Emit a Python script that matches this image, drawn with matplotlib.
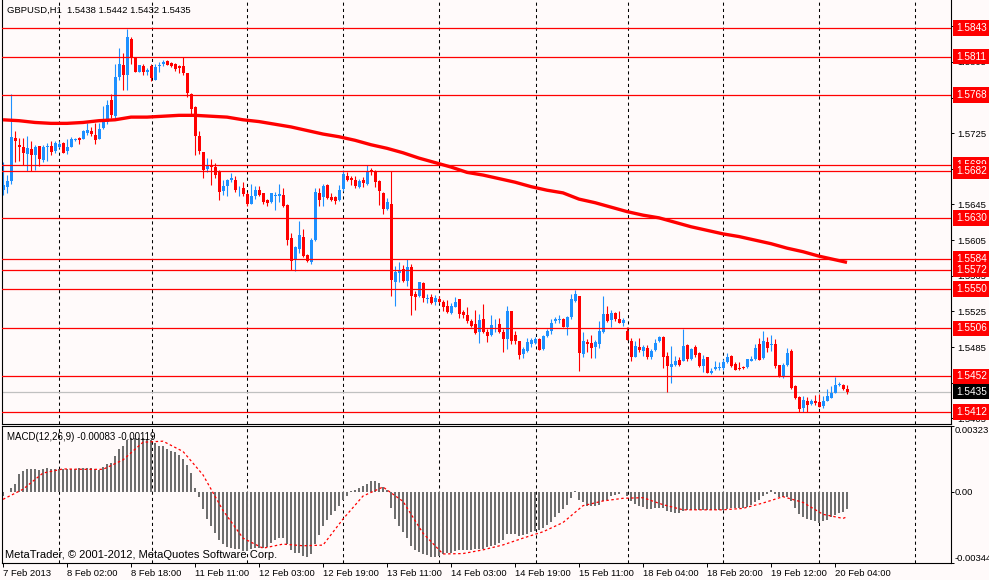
import numpy as np
import matplotlib
matplotlib.use('Agg')
import matplotlib.pyplot as plt
import matplotlib.transforms as mtransforms

plt.rcParams['font.family'] = ['Liberation Sans', 'DejaVu Sans']

# ---------------- text ----------------
symbol_title = "GBPUSD,H1  1.5438 1.5442 1.5432 1.5435"
macd_title = "MACD(12,26,9) -0.00083 -0.00119"
copyright_text = "MetaTrader, \u00a9 2001-2012, MetaQuotes Software Corp."

# ---------------- candle data (H1 bars) ----------------
opens = [
    1.5661, 1.5665, 1.5671, 1.5720, 1.5712, 1.5710, 1.5702, 1.5707, 1.5700, 1.5711,
    1.5695, 1.5710, 1.5711, 1.5705, 1.5710, 1.5714, 1.5705, 1.5710, 1.5717, 1.5720,
    1.5718, 1.5725, 1.5727, 1.5723, 1.5718, 1.5731, 1.5737, 1.5762, 1.5744, 1.5788,
    1.5802, 1.5790, 1.5831, 1.5810, 1.5794, 1.5800, 1.5794, 1.5800, 1.5785, 1.5800,
    1.5803, 1.5806, 1.5804, 1.5803, 1.5800, 1.5800, 1.5793, 1.5769, 1.5754, 1.5722,
    1.5704, 1.5685, 1.5689, 1.5687, 1.5683, 1.5660, 1.5666, 1.5672, 1.5672, 1.5663,
    1.5663, 1.5657, 1.5646, 1.5654, 1.5661, 1.5658, 1.5650, 1.5648, 1.5655, 1.5654,
    1.5656, 1.5644, 1.5607, 1.5584, 1.5595, 1.5609, 1.5588, 1.5581, 1.5605, 1.5658,
    1.5653, 1.5667, 1.5653, 1.5653, 1.5650, 1.5662, 1.5677, 1.5675, 1.5672, 1.5665,
    1.5673, 1.5668, 1.5684, 1.5681, 1.5671, 1.5658, 1.5640, 1.5646, 1.5558, 1.5568,
    1.5573, 1.5559, 1.5575, 1.5544, 1.5542, 1.5557, 1.5539, 1.5541, 1.5536, 1.5539,
    1.5536, 1.5531, 1.5523, 1.5530, 1.5539, 1.5524, 1.5521, 1.5514, 1.5511, 1.5502,
    1.5516, 1.5502, 1.5498, 1.5507, 1.5511, 1.5502, 1.5494, 1.5525, 1.5498, 1.5492,
    1.5477, 1.5481, 1.5489, 1.5490, 1.5494, 1.5483, 1.5497, 1.5503, 1.5514, 1.5515,
    1.5517, 1.5508, 1.5519, 1.5537, 1.5542, 1.5477, 1.5491, 1.5490, 1.5485, 1.5488,
    1.5502, 1.5522, 1.5515, 1.5523, 1.5516, 1.5512, 1.5503, 1.5492, 1.5474, 1.5485,
    1.5481, 1.5484, 1.5474, 1.5482, 1.5492, 1.5496, 1.5475, 1.5463, 1.5465, 1.5470,
    1.5469, 1.5487, 1.5472, 1.5485, 1.5478, 1.5464, 1.5474, 1.5456, 1.5460, 1.5461,
    1.5462, 1.5468, 1.5475, 1.5466, 1.5462, 1.5463, 1.5463, 1.5469, 1.5472, 1.5488,
    1.5473, 1.5491, 1.5487, 1.5489, 1.5465, 1.5451, 1.5465, 1.5481, 1.5441, 1.5429,
    1.5417, 1.5424, 1.5421, 1.5425, 1.5423, 1.5419, 1.5425, 1.5428, 1.5434, 1.5443,
    1.5442, 1.5438,
]
highs = [
    1.5693, 1.5678, 1.5769, 1.5727, 1.5720, 1.5720, 1.5722, 1.5716, 1.5712, 1.5711,
    1.5712, 1.5714, 1.5716, 1.5716, 1.5716, 1.5715, 1.5718, 1.5721, 1.5720, 1.5721,
    1.5728, 1.5736, 1.5732, 1.5736, 1.5736, 1.5756, 1.5762, 1.5769, 1.5803, 1.5820,
    1.5815, 1.5842, 1.5833, 1.5811, 1.5802, 1.5803, 1.5798, 1.5803, 1.5803, 1.5805,
    1.5807, 1.5807, 1.5805, 1.5804, 1.5801, 1.5810, 1.5793, 1.5770, 1.5755, 1.5727,
    1.5704, 1.5697, 1.5696, 1.5692, 1.5684, 1.5672, 1.5674, 1.5680, 1.5677, 1.5666,
    1.5670, 1.5659, 1.5668, 1.5666, 1.5666, 1.5658, 1.5651, 1.5658, 1.5659, 1.5668,
    1.5664, 1.5645, 1.5613, 1.5598, 1.5626, 1.5617, 1.5589, 1.5607, 1.5663, 1.5663,
    1.5668, 1.5668, 1.5658, 1.5654, 1.5667, 1.5684, 1.5681, 1.5677, 1.5677, 1.5674,
    1.5676, 1.5689, 1.5686, 1.5684, 1.5672, 1.5659, 1.5652, 1.5683, 1.5576, 1.5581,
    1.5577, 1.5584, 1.5578, 1.5548, 1.5558, 1.5558, 1.5545, 1.5545, 1.5543, 1.5542,
    1.5538, 1.5538, 1.5534, 1.5541, 1.5539, 1.5527, 1.5530, 1.5517, 1.5527, 1.5522,
    1.5533, 1.5505, 1.5521, 1.5517, 1.5518, 1.5505, 1.5531, 1.5525, 1.5503, 1.5492,
    1.5485, 1.5495, 1.5495, 1.5496, 1.5495, 1.5498, 1.5505, 1.5517, 1.5519, 1.5521,
    1.5518, 1.5520, 1.5545, 1.5549, 1.5542, 1.5502, 1.5494, 1.5498, 1.5493, 1.5514,
    1.5542, 1.5531, 1.5527, 1.5524, 1.5526, 1.5518, 1.5507, 1.5495, 1.5492, 1.5495,
    1.5487, 1.5487, 1.5483, 1.5494, 1.5497, 1.5497, 1.5480, 1.5486, 1.5475, 1.5474,
    1.5505, 1.5489, 1.5484, 1.5487, 1.5480, 1.5476, 1.5474, 1.5462, 1.5469, 1.5468,
    1.5472, 1.5478, 1.5476, 1.5468, 1.5468, 1.5464, 1.5472, 1.5475, 1.5489, 1.5495,
    1.5503, 1.5496, 1.5498, 1.5494, 1.5465, 1.5467, 1.5484, 1.5483, 1.5442, 1.5430,
    1.5430, 1.5429, 1.5427, 1.5431, 1.5432, 1.5430, 1.5438, 1.5441, 1.5451, 1.5446,
    1.5444, 1.5442,
]
lows = [
    1.5656, 1.5658, 1.5668, 1.5693, 1.5694, 1.5689, 1.5682, 1.5682, 1.5684, 1.5688,
    1.5693, 1.5694, 1.5700, 1.5703, 1.5708, 1.5703, 1.5702, 1.5709, 1.5716, 1.5713,
    1.5718, 1.5723, 1.5722, 1.5713, 1.5718, 1.5730, 1.5735, 1.5742, 1.5741, 1.5785,
    1.5773, 1.5773, 1.5803, 1.5794, 1.5794, 1.5790, 1.5790, 1.5783, 1.5785, 1.5794,
    1.5800, 1.5801, 1.5799, 1.5795, 1.5792, 1.5790, 1.5766, 1.5747, 1.5701, 1.5702,
    1.5675, 1.5681, 1.5667, 1.5675, 1.5650, 1.5656, 1.5654, 1.5670, 1.5659, 1.5655,
    1.5655, 1.5643, 1.5646, 1.5651, 1.5654, 1.5646, 1.5643, 1.5647, 1.5639, 1.5648,
    1.5642, 1.5599, 1.5572, 1.5570, 1.5590, 1.5586, 1.5580, 1.5578, 1.5604, 1.5643,
    1.5643, 1.5651, 1.5649, 1.5645, 1.5649, 1.5660, 1.5671, 1.5667, 1.5663, 1.5663,
    1.5665, 1.5667, 1.5678, 1.5665, 1.5644, 1.5634, 1.5639, 1.5542, 1.5531, 1.5558,
    1.5558, 1.5554, 1.5521, 1.5527, 1.5541, 1.5536, 1.5534, 1.5533, 1.5532, 1.5534,
    1.5526, 1.5523, 1.5522, 1.5530, 1.5518, 1.5518, 1.5512, 1.5507, 1.5500, 1.5490,
    1.5501, 1.5491, 1.5497, 1.5502, 1.5501, 1.5480, 1.5483, 1.5488, 1.5488, 1.5472,
    1.5473, 1.5480, 1.5485, 1.5489, 1.5482, 1.5482, 1.5496, 1.5500, 1.5512, 1.5512,
    1.5507, 1.5499, 1.5517, 1.5536, 1.5458, 1.5474, 1.5480, 1.5473, 1.5473, 1.5484,
    1.5501, 1.5513, 1.5508, 1.5514, 1.5512, 1.5509, 1.5493, 1.5469, 1.5474, 1.5480,
    1.5475, 1.5472, 1.5472, 1.5481, 1.5491, 1.5462, 1.5435, 1.5445, 1.5464, 1.5464,
    1.5469, 1.5469, 1.5471, 1.5474, 1.5463, 1.5457, 1.5456, 1.5455, 1.5459, 1.5459,
    1.5459, 1.5467, 1.5463, 1.5459, 1.5459, 1.5460, 1.5461, 1.5469, 1.5471, 1.5471,
    1.5472, 1.5480, 1.5481, 1.5462, 1.5451, 1.5450, 1.5464, 1.5438, 1.5427, 1.5412,
    1.5412, 1.5412, 1.5420, 1.5420, 1.5418, 1.5417, 1.5424, 1.5428, 1.5433, 1.5441,
    1.5437, 1.5432,
]
closes = [
    1.5667, 1.5671, 1.5721, 1.5716, 1.5710, 1.5703, 1.5708, 1.5700, 1.5710, 1.5696,
    1.5710, 1.5711, 1.5704, 1.5714, 1.5713, 1.5703, 1.5710, 1.5719, 1.5719, 1.5717,
    1.5727, 1.5728, 1.5724, 1.5717, 1.5730, 1.5739, 1.5757, 1.5745, 1.5788, 1.5803,
    1.5790, 1.5833, 1.5810, 1.5794, 1.5802, 1.5794, 1.5796, 1.5787, 1.5799, 1.5802,
    1.5805, 1.5802, 1.5800, 1.5797, 1.5798, 1.5793, 1.5770, 1.5752, 1.5722, 1.5705,
    1.5684, 1.5689, 1.5687, 1.5678, 1.5659, 1.5666, 1.5672, 1.5675, 1.5661, 1.5664,
    1.5657, 1.5646, 1.5654, 1.5661, 1.5656, 1.5648, 1.5647, 1.5658, 1.5656, 1.5657,
    1.5643, 1.5605, 1.5582, 1.5597, 1.5611, 1.5587, 1.5582, 1.5605, 1.5659, 1.5650,
    1.5666, 1.5652, 1.5650, 1.5649, 1.5661, 1.5679, 1.5672, 1.5672, 1.5666, 1.5671,
    1.5669, 1.5683, 1.5681, 1.5670, 1.5660, 1.5640, 1.5648, 1.5560, 1.5569, 1.5572,
    1.5559, 1.5575, 1.5542, 1.5541, 1.5558, 1.5540, 1.5540, 1.5535, 1.5540, 1.5536,
    1.5530, 1.5524, 1.5531, 1.5536, 1.5522, 1.5521, 1.5514, 1.5509, 1.5501, 1.5515,
    1.5502, 1.5497, 1.5510, 1.5508, 1.5502, 1.5494, 1.5525, 1.5492, 1.5492, 1.5476,
    1.5483, 1.5491, 1.5493, 1.5494, 1.5482, 1.5497, 1.5503, 1.5512, 1.5516, 1.5517,
    1.5508, 1.5519, 1.5539, 1.5544, 1.5478, 1.5492, 1.5488, 1.5484, 1.5491, 1.5503,
    1.5522, 1.5514, 1.5523, 1.5516, 1.5512, 1.5515, 1.5493, 1.5474, 1.5486, 1.5482,
    1.5485, 1.5474, 1.5481, 1.5490, 1.5496, 1.5474, 1.5464, 1.5466, 1.5469, 1.5465,
    1.5486, 1.5472, 1.5483, 1.5476, 1.5464, 1.5472, 1.5456, 1.5458, 1.5463, 1.5463,
    1.5468, 1.5474, 1.5464, 1.5459, 1.5460, 1.5461, 1.5472, 1.5472, 1.5484, 1.5471,
    1.5492, 1.5484, 1.5489, 1.5464, 1.5451, 1.5465, 1.5478, 1.5439, 1.5428, 1.5416,
    1.5426, 1.5420, 1.5424, 1.5422, 1.5418, 1.5425, 1.5430, 1.5434, 1.5442, 1.5444,
    1.5438, 1.5435,
]

# moving average (read every 4th bar)
ma_bars = list(range(0, 209, 4)) + [211]
ma_values = [
    1.5740, 1.5739, 1.5737, 1.5736, 1.5736, 1.5737, 1.5739, 1.5740, 1.5743, 1.5743,
    1.5744, 1.5745, 1.5745, 1.5744, 1.5743, 1.5740, 1.5738, 1.5735, 1.5732, 1.5728,
    1.5724, 1.5721, 1.5717, 1.5712, 1.5708, 1.5703, 1.5697, 1.5692, 1.5687, 1.5681,
    1.5678, 1.5674, 1.5670, 1.5665, 1.5661, 1.5658, 1.5651, 1.5647, 1.5642, 1.5637,
    1.5633, 1.5630, 1.5625, 1.5620, 1.5616, 1.5612, 1.5609, 1.5605, 1.5601, 1.5596,
    1.5592, 1.5587, 1.5583, 1.5580,
]

# MACD histogram (main line) per bar
macd_main = [
    -0.00020, 0.00003, 0.00021, 0.00042, 0.00091, 0.00103, 0.00116, 0.00116, 0.00116, 0.00111,
    0.00114, 0.00117, 0.00116, 0.00114, 0.00114, 0.00112, 0.00114, 0.00114, 0.00116, 0.00117,
    0.00117, 0.00119, 0.00117, 0.00114, 0.00111, 0.00122, 0.00138, 0.00143, 0.00176, 0.00213,
    0.00228, 0.00257, 0.00265, 0.00265, 0.00265, 0.00265, 0.00262, 0.00257, 0.00241, 0.00228,
    0.00225, 0.00212, 0.00200, 0.00197, 0.00184, 0.00164, 0.00132, 0.00094, 0.00020, -0.00023,
    -0.00081, -0.00130, -0.00163, -0.00199, -0.00234, -0.00251, -0.00264, -0.00269, -0.00277, -0.00277,
    -0.00285, -0.00288, -0.00277, -0.00272, -0.00272, -0.00270, -0.00264, -0.00247, -0.00234, -0.00223,
    -0.00223, -0.00251, -0.00280, -0.00293, -0.00296, -0.00308, -0.00313, -0.00301, -0.00251, -0.00207,
    -0.00166, -0.00133, -0.00111, -0.00093, -0.00065, -0.00036, -0.00016, 0.00007, 0.00013, 0.00021,
    0.00029, 0.00041, 0.00054, 0.00057, 0.00046, 0.00024, 0.00013, -0.00077, -0.00129, -0.00166,
    -0.00195, -0.00223, -0.00260, -0.00280, -0.00291, -0.00300, -0.00306, -0.00313, -0.00313, -0.00308,
    -0.00300, -0.00296, -0.00293, -0.00288, -0.00283, -0.00280, -0.00280, -0.00280, -0.00277, -0.00277,
    -0.00274, -0.00265, -0.00260, -0.00255, -0.00245, -0.00231, -0.00202, -0.00202, -0.00204, -0.00212,
    -0.00210, -0.00202, -0.00194, -0.00187, -0.00182, -0.00176, -0.00161, -0.00142, -0.00122, -0.00101,
    -0.00081, -0.00060, -0.00029, 0.00005, -0.00036, -0.00049, -0.00065, -0.00068, -0.00065, -0.00060,
    -0.00044, -0.00036, -0.00020, -0.00011, -0.00007, 0.00003, -0.00016, -0.00044, -0.00055, -0.00068,
    -0.00072, -0.00081, -0.00081, -0.00077, -0.00077, -0.00077, -0.00093, -0.00098, -0.00101, -0.00101,
    -0.00093, -0.00088, -0.00085, -0.00085, -0.00085, -0.00085, -0.00085, -0.00088, -0.00088, -0.00088,
    -0.00085, -0.00081, -0.00077, -0.00077, -0.00077, -0.00077, -0.00072, -0.00060, -0.00049, -0.00036,
    -0.00016, -0.00007, 0.00010, -0.00007, -0.00023, -0.00024, -0.00023, -0.00044, -0.00077, -0.00104,
    -0.00120, -0.00130, -0.00137, -0.00138, -0.00147, -0.00138, -0.00133, -0.00122, -0.00109, -0.00101,
    -0.00098, -0.00083,
]

# MACD signal line (read every 5th bar)
signal_bars = list(range(0, 211, 5)) + [211]
signal_values = [
    -0.00034, 0.00015, 0.00094, 0.00114, 0.00112, 0.00112, 0.00158, 0.00244, 0.00249, 0.00199,
    0.00085, -0.00088, -0.00223, -0.00272, -0.00252, -0.00260, -0.00257, -0.00130, -0.00018, 0.00026,
    -0.00044, -0.00199, -0.00300, -0.00298, -0.00280, -0.00256, -0.00223, -0.00192, -0.00147, -0.00065,
    -0.00042, -0.00029, -0.00026, -0.00060, -0.00085, -0.00085, -0.00085, -0.00078, -0.00052, -0.00021,
    -0.00049, -0.00107, -0.00127, -0.00119,
]

# horizontal levels and bid
level_prices = [1.5843, 1.5811, 1.5768, 1.5689, 1.5682, 1.5630, 1.5584,
                1.5572, 1.5550, 1.5506, 1.5452, 1.5412]
bid_price = 1.5435
price_ticks = [1.5405, 1.5445, 1.5485, 1.5525, 1.5565, 1.5605, 1.5645,
               1.5685, 1.5725, 1.5765, 1.5805, 1.5845]
macd_scale_labels = [(0.00323, "0.00323"), (0.0, "0.00"), (-0.00344, "-0.00344")]

date_tick_bars = list(range(0, 209, 16))
date_labels = ["7 Feb 2013", "8 Feb 02:00", "8 Feb 18:00", "11 Feb 11:00",
               "12 Feb 03:00", "12 Feb 19:00", "13 Feb 11:00", "14 Feb 03:00",
               "14 Feb 19:00", "15 Feb 11:00", "18 Feb 04:00", "18 Feb 20:00",
               "19 Feb 12:00", "20 Feb 04:00"]

# ---------------- styling ----------------
BG = '#FFFAFA'
BULL = '#1E90FF'
BEAR = '#FF0000'
HIST = '#6E6E6E'
W, H = 989, 580
grid_bars = [14.1, 37.2, 61.1, 85.0, 109.0, 133.2, 156.2, 180.1, 204.1, 228.1]
FS = 6.8


def px_rect(x0, y0, x1, y1):
    return [x0 / W, 1 - y1 / H, (x1 - x0) / W, (y1 - y0) / H]


fig = plt.figure(figsize=(W / 100, H / 100), dpi=100, facecolor=BG)
ax = fig.add_axes(px_rect(2, 0, 951, 424), facecolor=BG)
ax2 = fig.add_axes(px_rect(2, 426, 951, 563), facecolor=BG)

xlim = (-0.25, 237.0)
for a in (ax, ax2):
    a.set_xlim(*xlim)
    for s in a.spines.values():
        s.set_color('black')
        s.set_linewidth(0.8)
    for gx in grid_bars:
        a.axvline(gx, color='black', lw=0.75, linestyle=(0, (3, 3)), zorder=1)
ax.spines['top'].set_visible(False)

# ---------------- main price panel ----------------
ax.set_ylim(1.53987, 1.58744)
o = np.array(opens)
hi = np.array(highs)
lo = np.array(lows)
c = np.array(closes)
x = np.arange(len(o))
up = c >= o
cols = np.where(up, BULL, BEAR)

ax.axhline(bid_price, color='#C0C0C0', lw=0.9, zorder=1.5)
ax.vlines(x, lo, hi, colors=cols, linewidth=0.8, zorder=2)
body_bottom = np.minimum(o, c)
body_h = np.maximum(np.abs(c - o), 0.00009)
ax.bar(x, body_h, bottom=body_bottom, width=0.75, color=cols, linewidth=0, zorder=2.1)

ax.plot(ma_bars, ma_values, color='red', lw=2.4, zorder=3, solid_capstyle='butt')

for p in level_prices:
    ax.axhline(p, color='red', lw=0.9, zorder=4)

ax.set_xticks([])
ax.yaxis.tick_right()
ax.set_yticks(price_ticks)
ax.set_yticklabels([f"{p:.4f}" for p in price_ticks])
ax.tick_params(axis='y', length=2.5, width=0.7, pad=2, labelsize=FS, colors='black')

trans = mtransforms.blended_transform_factory(ax.transAxes, ax.transData)
xlab = (956 - 2) / 949
box_kw = dict(boxstyle='square,pad=0.28', ec='none')
for p in level_prices:
    ax.text(xlab, p, f"{p:.4f}", transform=trans, color='white', fontsize=7.2,
            va='center', ha='left', clip_on=False, zorder=10,
            bbox=dict(fc='red', **box_kw))
ax.text(xlab, bid_price, f"{bid_price:.4f}", transform=trans, color='white', fontsize=7.2,
        va='center', ha='left', clip_on=False, zorder=10,
        bbox=dict(fc='black', **box_kw))

fig.text(7 / W, 1 - 10.5 / H, symbol_title, fontsize=6.8, va='center', ha='left')

# ---------------- MACD panel ----------------
ax2.set_ylim(-0.00344, 0.00323)
ax2.bar(x, macd_main, width=0.68, color=HIST, linewidth=0, zorder=2)
ax2.plot(signal_bars, signal_values, color='red', lw=0.9, linestyle=(0, (2, 2)), zorder=3)

ax2.yaxis.tick_right()
ax2.set_yticks([v for v, _ in macd_scale_labels])
ax2.set_yticklabels([])
ax2.tick_params(axis='y', length=2.5, width=0.7)
trans2 = mtransforms.blended_transform_factory(ax2.transAxes, ax2.transData)
for (v, lab), va in zip(macd_scale_labels, ['top', 'center', 'bottom']):
    ax2.text(1 + 4 / 949, v, lab, transform=trans2, fontsize=FS, va=va, ha='left',
             clip_on=False)

ax2.set_xticks(date_tick_bars)
ax2.set_xticklabels(date_labels, ha='left')
ax2.tick_params(axis='x', length=3, width=0.7, pad=1.5, labelsize=FS)

fig.text(7 / W, 1 - 436.5 / H, macd_title, fontsize=7.0, va='center', ha='left')
fig.text(5 / W, 1 - 555 / H, copyright_text, fontsize=8.0, va='center', ha='left')

fig.savefig('out.png', dpi=100, facecolor=BG)
